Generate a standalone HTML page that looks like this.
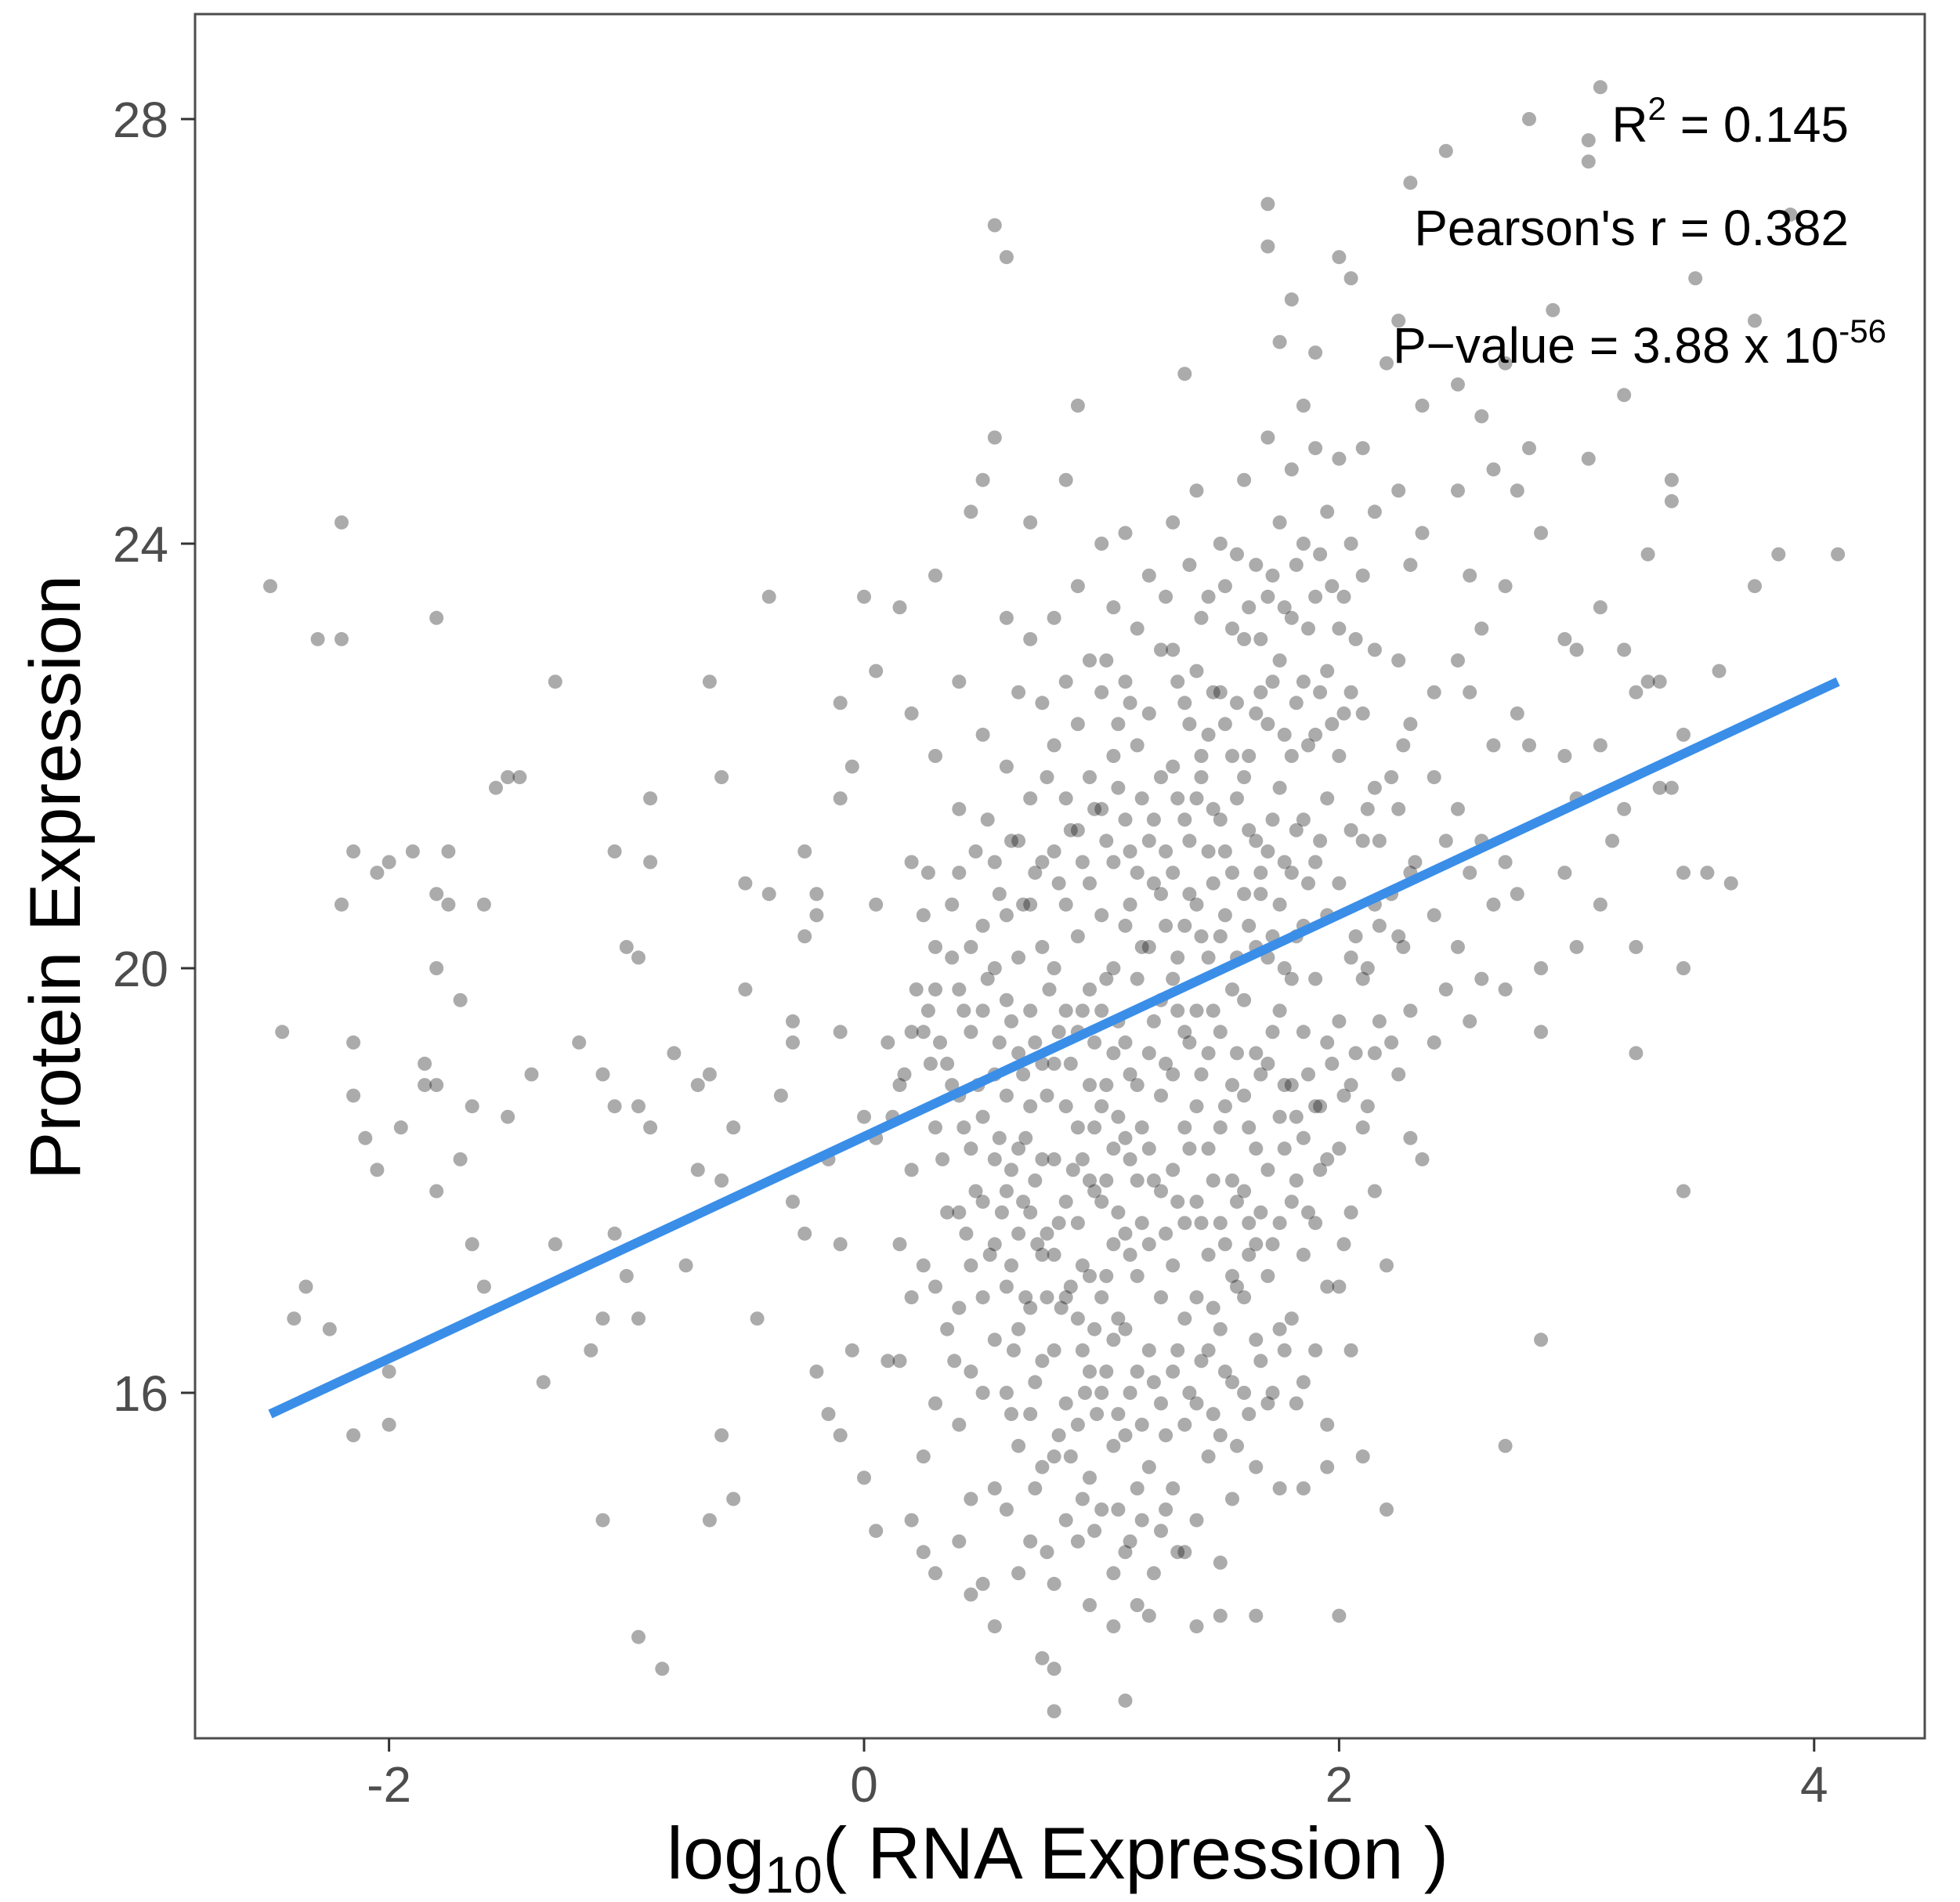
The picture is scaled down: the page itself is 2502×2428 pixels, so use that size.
<!DOCTYPE html>
<html><head><meta charset="utf-8">
<style>
html,body{margin:0;padding:0;background:#fff;}
svg{display:block;font-family:"Liberation Sans",Arial,sans-serif;}
</style></head>
<body>
<svg id="chart" width="2502" height="2428" viewBox="0 0 2502 2428" xmlns="http://www.w3.org/2000/svg">
<rect x="0" y="0" width="2502" height="2428" fill="#fff"/>
<g id="points"></g>
<g id="fit"></g>
<rect x="249" y="18" width="2208" height="2201" fill="none" stroke="#4d4d4d" stroke-width="3"/>
<g id="xaxis"></g>
<g id="yaxis"></g>
<text x="1350" y="2398" font-size="94" text-anchor="middle" fill="#000">log<tspan font-size="66" dy="18">10</tspan><tspan dy="-18">( RNA Expression )</tspan></text>
<text transform="translate(102,1120) rotate(-90)" font-size="92" text-anchor="middle" fill="#000">Protein Expression</text>
<text x="2360" y="181" font-size="64" text-anchor="end" fill="#000">R<tspan font-size="42" dy="-28">2</tspan><tspan dy="28"> = 0.145</tspan></text>
<text x="2360" y="313" font-size="64" text-anchor="end" fill="#000">Pearson's r = 0.382</text>
<text x="2408" y="463" font-size="64" text-anchor="end" fill="#000">P−value = 3.88 x 10<tspan font-size="42" dy="-26">-56</tspan></text>
</svg>
<script>
const xTicks = [-2, 0, 2, 4];
const xTickLabels = ["-2", "0", "2", "4"];
const yTicks = [16, 20, 24, 28];
const yTickLabels = ["16", "20", "24", "28"];
const fitX = [-2.5, 4.1];
const fitY = [15.8, 22.7];
const points = [
[-2.5,23.6],[-2.45,19.4],[-2.2,24.2],[-2.3,23.1],[-2.2,23.1],[-2.15,21.1],[-2.2,20.6],[-2.05,20.9],[-2.0,21.0],[-2.15,19.3],[-2.15,18.8],[-2.1,18.4],[-2.05,18.1],[-2.35,17.0],[-2.4,16.7],[-2.25,16.6],[-2.0,16.2],[-2.15,15.6],[-2.0,15.7],
[-1.8,23.3],[-1.9,21.1],[-1.75,21.1],[-1.8,20.7],[-1.75,20.6],[-1.6,20.6],[-1.8,20.0],[-1.7,19.7],[-1.85,19.1],[-1.85,18.9],[-1.8,18.9],[-1.95,18.5],[-1.65,18.7],[-1.7,18.2],[-1.8,17.9],[-1.65,17.4],[-1.6,17.0],
[-1.5,21.8],[-1.55,21.7],[-1.45,21.8],[-1.4,19.0],[-1.5,18.6],[-1.3,22.7],[-1.3,17.4],[-1.35,16.1],[-1.2,19.3],[-1.1,19.0],[-1.15,16.4],[-1.1,16.7],[-1.05,21.1],[-1.0,20.2],[-0.95,20.1],[-1.05,18.7],[-0.95,18.7],[-1.05,17.5],[-1.0,17.1],[-0.95,16.7],[-0.9,18.5],[-1.1,14.8],[-0.95,13.7],[-0.85,13.4],
[-0.9,21.6],[-0.9,21.0],[-0.8,19.2],[-0.75,17.2],[-0.7,18.1],[-0.65,22.7],[-0.6,21.8],[-0.65,19.0],[-0.7,18.9],[-0.6,18.0],[-0.55,18.5],[-0.6,15.6],[-0.55,15.0],[-0.65,14.8],[-0.5,20.8],[-0.5,19.8],[-0.45,16.7],[-0.4,23.5],[-0.4,20.7],[-0.35,18.8],[-0.3,19.5],[-0.3,19.3],[-0.25,21.1],[-0.25,20.3],[-0.2,20.7],[-0.2,20.5],[-0.3,17.8],[-0.25,17.5],[-0.2,16.2],
[-0.1,22.5],[-0.1,21.6],[-0.05,21.9],[-0.1,19.4],[-0.15,18.2],[-0.1,17.4],[-0.05,16.4],[-0.15,15.8],[-0.1,15.6],[0.0,23.5],[0.05,22.8],[0.05,20.6],[0.1,19.3],[0.0,18.6],[0.05,18.4],[0.1,16.3],[0.0,15.2],[0.05,14.7],
[0.15,23.4],[0.2,22.4],[0.2,21.0],[0.25,20.5],[0.2,19.4],[0.25,19.4],[0.15,18.9],[0.2,18.1],[0.15,17.4],[0.25,17.2],[0.2,16.9],[0.15,16.3],[0.25,15.4],[0.2,14.8],[0.3,23.7],[0.3,22.0],[0.3,20.2],[0.3,19.8],[0.35,19.1],[0.3,18.5],[0.35,17.7],[0.3,17.0],[0.35,16.6],[0.3,15.9],[0.25,14.5],[0.3,14.3],
[0.4,22.7],[0.4,21.5],[0.4,20.9],[0.45,20.2],[0.4,19.8],[0.45,19.4],[0.4,18.8],[0.45,18.3],[0.4,17.7],[0.45,17.2],[0.4,16.8],[0.45,16.2],[0.4,15.7],[0.45,15.0],[0.4,14.6],[0.45,14.1],[0.45,24.3],
[0.5,22.2],[0.55,21.0],[0.5,20.4],[0.55,20.0],[0.5,19.6],[0.55,19.0],[0.5,18.6],[0.55,18.2],[0.5,17.8],[0.55,17.4],[0.5,16.9],[0.55,16.5],[0.5,16.0],[0.55,15.1],[0.5,14.2],[0.55,13.8],[0.55,27.0],[0.6,26.7],[0.55,25.0],[0.5,24.6],
[0.6,23.3],[0.65,22.6],[0.6,21.9],[0.65,21.2],[0.6,20.5],[0.65,20.1],[0.6,19.7],[0.65,19.2],[0.6,18.8],[0.65,18.3],[0.6,17.9],[0.65,17.5],[0.6,17.0],[0.65,16.6],[0.6,16.0],[0.65,15.5],[0.6,14.9],[0.65,14.3],
[0.7,24.2],[0.7,23.1],[0.75,22.5],[0.7,21.6],[0.75,21.0],[0.7,20.6],[0.75,20.2],[0.7,19.6],[0.75,19.1],[0.7,18.7],[0.75,18.2],[0.7,17.7],[0.75,17.3],[0.7,16.8],[0.75,16.3],[0.7,15.8],[0.75,15.3],[0.7,14.6],[0.8,13.4],[0.8,13.0],[0.75,13.5],
[0.8,23.3],[0.85,22.7],[0.8,22.1],[0.85,21.6],[0.8,21.1],[0.85,20.6],[0.8,20.0],[0.85,19.6],[0.8,19.1],[0.85,18.7],[0.8,18.2],[0.85,17.8],[0.8,17.3],[0.85,16.9],[0.8,16.4],[0.85,15.9],[0.8,15.4],[0.85,14.8],[0.8,14.2],[0.85,24.6],[0.9,25.3],
[0.9,23.6],[0.95,22.9],[0.9,22.3],[0.95,21.8],[0.9,21.3],[0.95,20.8],[0.9,20.3],[0.95,19.8],[0.9,19.4],[0.95,18.9],[0.9,18.5],[0.95,18.0],[0.9,17.6],[0.95,17.1],[0.9,16.7],[0.95,16.2],[0.9,15.7],[0.95,15.2],[0.9,14.6],[0.95,14.0],
[1.0,24.0],[1.05,23.4],[1.0,22.6],[1.05,22.0],[1.0,21.5],[1.05,21.0],[1.0,20.5],[1.05,20.0],[1.0,19.6],[1.05,19.2],[1.0,18.7],[1.05,18.3],[1.0,17.8],[1.05,17.4],[1.0,16.9],[1.05,16.5],[1.0,16.0],[1.05,15.5],[1.0,14.9],[1.05,14.3],[1.1,13.1],[1.05,13.8],
[1.1,24.1],[1.15,23.2],[1.1,22.7],[1.15,22.1],[1.1,21.4],[1.15,20.9],[1.1,20.4],[1.15,19.9],[1.1,19.3],[1.15,18.9],[1.1,18.4],[1.15,18.0],[1.1,17.5],[1.15,17.1],[1.1,16.6],[1.15,16.2],[1.1,15.6],[1.15,15.1],[1.1,14.5],[1.15,14.0],
[1.2,23.7],[1.25,23.0],[1.2,22.4],[1.25,21.8],[1.2,21.2],[1.25,20.7],[1.2,20.2],[1.25,19.7],[1.2,19.2],[1.25,18.8],[1.2,18.3],[1.25,17.9],[1.2,17.4],[1.25,16.9],[1.2,16.4],[1.25,15.9],[1.2,15.3],[1.25,14.7],[1.2,13.9],[1.3,24.2],
[1.3,23.0],[1.35,22.5],[1.3,21.9],[1.35,21.4],[1.3,20.9],[1.35,20.4],[1.3,19.9],[1.35,19.4],[1.3,19.0],[1.35,18.5],[1.3,18.1],[1.35,17.6],[1.3,17.2],[1.35,16.7],[1.3,16.2],[1.35,15.7],[1.3,15.1],[1.35,14.5],[1.4,13.8],[1.35,25.6],
[1.4,24.5],[1.45,23.5],[1.4,22.8],[1.45,22.2],[1.4,21.6],[1.45,21.1],[1.4,20.6],[1.45,20.1],[1.4,19.6],[1.45,19.2],[1.4,18.7],[1.45,18.3],[1.4,17.8],[1.45,17.3],[1.4,16.9],[1.45,16.4],[1.4,15.9],[1.45,15.4],[1.4,14.8],[1.5,13.9],
[1.5,24.0],[1.55,23.2],[1.5,22.6],[1.55,22.0],[1.5,21.4],[1.55,20.9],[1.5,20.3],[1.55,19.8],[1.5,19.4],[1.55,18.9],[1.5,18.5],[1.55,18.0],[1.5,17.6],[1.55,17.1],[1.5,16.6],[1.55,16.1],[1.5,15.6],[1.55,15.0],[1.5,14.4],
[1.6,24.6],[1.65,23.8],[1.6,23.1],[1.65,22.4],[1.6,21.8],[1.65,21.2],[1.6,20.7],[1.65,20.2],[1.6,19.7],[1.65,19.2],[1.6,18.8],[1.65,18.3],[1.6,17.9],[1.65,17.4],[1.6,16.9],[1.65,16.5],[1.6,16.0],[1.65,15.3],[1.65,13.9],[1.7,27.2],[1.7,26.8],[1.75,25.9],
[1.7,25.0],[1.75,24.2],[1.7,23.5],[1.75,22.9],[1.7,22.3],[1.75,21.7],[1.7,21.1],[1.75,20.6],[1.7,20.1],[1.75,19.6],[1.7,19.1],[1.75,18.6],[1.7,18.1],[1.75,17.6],[1.7,17.1],[1.75,16.6],[1.7,15.9],[1.75,15.1],[1.85,15.1],
[1.8,26.3],[1.85,25.3],[1.8,24.7],[1.85,24.0],[1.8,23.3],[1.85,22.7],[1.8,22.0],[1.85,21.4],[1.8,20.9],[1.85,20.4],[1.8,19.9],[1.85,19.4],[1.8,18.9],[1.85,18.4],[1.8,17.8],[1.85,17.3],[1.8,16.7],[1.85,16.1],[1.9,25.8],
[1.9,24.9],[1.95,24.3],[1.9,23.5],[1.95,22.8],[1.9,22.2],[1.95,21.6],[1.9,21.0],[1.95,20.5],[1.9,19.9],[1.95,19.3],[1.9,18.7],[1.95,18.2],[1.9,17.6],[1.95,17.0],[1.9,16.4],[1.95,15.7],[1.95,15.3],[2.0,13.9],
[2.0,26.7],[2.05,26.5],[2.0,24.8],[2.05,24.0],[2.0,23.2],[2.05,22.6],[2.0,22.0],[2.05,21.3],[2.0,20.8],[2.05,20.1],[2.0,19.5],[2.05,18.9],[2.0,18.3],[2.05,17.7],[2.0,17.0],[2.05,16.4],[2.1,15.4],
[2.1,24.9],[2.15,24.3],[2.1,23.7],[2.15,23.0],[2.1,22.4],[2.15,21.7],[2.1,21.2],[2.15,20.6],[2.1,19.9],[2.15,19.2],[2.1,18.5],[2.15,17.9],[2.2,17.2],[2.2,14.9],[2.2,25.7],[2.25,26.1],
[2.25,24.5],[2.3,23.8],[2.25,22.9],[2.3,22.3],[2.25,21.5],[2.3,20.9],[2.25,20.3],[2.3,19.6],[2.25,19.0],[2.3,18.4],[2.35,18.2],[2.3,27.4],[2.35,25.3],[2.35,24.1],[2.4,22.6],[2.4,21.8],[2.45,21.2],[2.4,20.5],[2.45,19.8],[2.4,19.3],
[2.45,27.7],[2.5,25.5],[2.5,24.5],[2.55,23.7],[2.5,22.9],[2.55,22.6],[2.5,21.5],[2.55,20.9],[2.5,20.2],[2.55,19.5],[2.6,25.2],[2.65,24.7],[2.6,23.2],[2.65,22.1],[2.6,21.2],[2.65,20.6],[2.6,19.9],
[2.7,25.7],[2.75,24.5],[2.7,23.6],[2.75,22.4],[2.7,21.0],[2.75,20.7],[2.7,19.8],[2.7,15.5],[2.8,28.0],[2.8,24.9],[2.85,24.1],[2.8,22.1],[2.85,20.0],[2.85,19.4],[2.85,16.5],[2.9,26.2],
[2.95,23.1],[3.0,23.0],[2.95,22.0],[3.0,21.6],[2.95,20.9],[3.0,20.2],[3.05,27.8],[3.05,27.6],[3.05,24.8],[3.1,28.3],[3.1,23.4],[3.1,22.1],[3.15,21.2],[3.1,20.6],[3.2,25.4],[3.2,23.0],[3.25,22.6],[3.2,21.5],[3.25,20.2],[3.25,19.2],
[3.3,23.9],[3.3,22.7],[3.35,22.7],[3.35,21.7],[3.4,24.4],[3.4,24.6],[3.45,22.2],[3.4,21.7],[3.45,20.9],[3.45,20.0],[3.45,17.9],[3.5,26.5],[3.55,20.9],[3.6,22.8],[3.65,20.8],[3.75,26.1],[3.75,23.6],[3.85,23.9],[3.9,27.1],[4.1,23.9],
[0.52,21.4],[0.57,19.3],[0.62,17.2],[0.68,18.4],[0.72,16.1],[0.78,19.8],[0.82,17.6],[0.88,18.1],[0.92,16.4],[0.97,17.9],[0.48,18.9],[0.43,17.5],[0.38,16.3],[0.33,18.2],[0.28,19.1],
[0.83,16.8],[0.87,17.0],[0.92,17.2],[0.97,16.6],[1.02,17.1],[1.07,16.7],[1.12,17.3],[0.77,16.9],[0.73,17.4],[0.68,16.9],[0.63,16.4],[0.58,17.7],[0.53,17.3],[0.93,16.0],[0.98,15.8],
[1.02,18.9],[1.07,18.6],[1.12,19.0],[1.17,18.5],[1.22,19.5],[1.27,19.1],[1.32,19.6],[1.37,19.3],[1.42,19.0],[1.47,19.6],[1.52,18.7],[1.57,19.2],[1.62,18.5],[1.67,19.0],[1.72,19.4],
[1.22,21.4],[1.27,21.1],[1.32,21.6],[1.37,21.2],[1.42,21.8],[1.47,21.5],[1.52,21.1],[1.57,21.6],[1.62,21.3],[1.67,20.9],[1.72,21.4],[1.77,21.0],[1.82,21.3],[1.87,20.8],[1.92,21.2],
[1.32,22.7],[1.37,22.3],[1.42,22.0],[1.47,22.6],[1.52,22.3],[1.57,22.5],[1.62,22.0],[1.67,22.6],[1.72,22.7],[1.77,22.2],[1.82,22.5],[1.87,22.1],[1.92,22.6],[1.97,22.3],[2.02,22.4],
[1.12,20.6],[1.17,20.2],[1.22,20.8],[1.27,20.4],[1.32,20.1],[1.37,20.7],[1.42,20.3],[1.47,20.8],[1.52,20.5],[1.57,20.1],[1.62,20.4],[1.67,20.7],[1.72,20.3],[1.77,20.0],[1.82,20.3],
[0.92,18.2],[0.97,18.5],[1.02,18.0],[1.07,17.7],[1.12,18.2],[1.17,17.6],[1.22,18.0],[1.27,17.5],[1.32,17.8],[1.37,18.3],[1.42,17.6],[1.47,18.0],[1.52,17.4],[1.57,17.8],[1.62,17.3],
[0.62,19.5],[0.67,19.0],[0.72,19.3],[0.77,18.8],[0.82,19.4],[0.87,19.1],[0.92,19.6],[0.97,19.3],[1.02,19.9],[1.07,19.5],[0.57,18.4],[0.62,18.1],[0.67,17.8],[0.72,18.0],[0.77,17.5],
[1.02,16.2],[1.07,15.8],[1.12,16.0],[1.17,15.7],[1.22,16.1],[1.27,15.6],[1.32,16.4],[1.37,16.0],[1.42,16.3],[1.47,15.8],[1.52,16.2],[1.57,15.5],[0.87,15.4],[0.92,15.0],[0.82,15.6],
[1.07,14.9],[1.12,14.6],[1.17,14.8],[1.22,14.3],[0.97,14.7],[1.27,14.9],[1.32,14.5],[0.62,15.8],[0.72,15.1],[0.77,14.5],[1.62,15.8],[1.67,16.3],[1.72,16.0],[1.77,16.4],[1.82,15.9],
[1.77,18.9],[1.82,18.6],[1.87,19.0],[1.92,18.7],[1.97,19.1],[2.02,18.8],[1.77,18.3],[1.82,18.0],[1.87,17.7],[1.92,18.1],[1.67,17.7],[1.72,17.4],[1.57,17.0],[1.62,17.6],[1.47,16.8],
[1.52,23.6],[1.57,23.9],[1.62,23.4],[1.67,23.1],[1.72,23.7],[1.77,23.4],[1.82,23.8],[1.87,23.2],[1.92,23.9],[1.97,23.6],[2.02,23.5],[2.07,23.1],[1.42,23.3],[1.37,23.8],[1.27,23.5],
[0.92,21.0],[0.97,21.5],[1.02,21.2],[1.07,21.7],[1.12,21.1],[1.17,21.6],[0.82,20.8],[0.87,21.3],[0.77,21.8],[0.72,20.9],[0.67,20.6],[0.62,21.2],[1.07,22.3],[1.12,22.5],[1.02,22.9],
[2.07,20.3],[2.12,20.0],[2.17,20.4],[2.22,20.7],[2.27,20.2],[2.32,21.0],[2.12,21.5],[2.17,21.2],[2.22,21.8],[2.27,22.1],[2.07,19.2],[2.12,18.7],[2.17,19.5],[2.22,19.3],[2.02,17.4],
[0.42,19.6],[0.37,20.1],[0.32,19.3],[0.27,19.6],[0.42,18.5],[0.37,18.9],[0.47,17.9],[0.52,19.9],[0.57,20.7],[0.47,21.1],[0.37,20.6],[0.27,20.9],[0.22,19.8],[0.17,19.0],[0.12,18.6]
];

const NS = "http://www.w3.org/2000/svg";
function xScale(v){ return 1103 + (v - 0) * 303.2; }
function yScale(v){ return 1236 - (v - 20) * 135.5; }

const gp = document.getElementById("points");
for (let i = 0; i < points.length; i++) {
  const c = document.createElementNS(NS, "circle");
  c.setAttribute("cx", xScale(points[i][0]).toFixed(1));
  c.setAttribute("cy", yScale(points[i][1]).toFixed(1));
  c.setAttribute("r", "9");
  c.setAttribute("fill", "#000");
  c.setAttribute("fill-opacity", "0.33");
  
  
  gp.appendChild(c);
}

const gf = document.getElementById("fit");
const ln = document.createElementNS(NS, "line");
ln.setAttribute("x1", xScale(fitX[0]));
ln.setAttribute("y1", yScale(fitY[0]));
ln.setAttribute("x2", xScale(fitX[1]));
ln.setAttribute("y2", yScale(fitY[1]));
ln.setAttribute("stroke", "#3a8ee8");
ln.setAttribute("stroke-width", "12");


gf.appendChild(ln);

const gx = document.getElementById("xaxis");
for (let i = 0; i < xTicks.length; i++) {
  const x = xScale(xTicks[i]);
  const t = document.createElementNS(NS, "line");
  t.setAttribute("x1", x); t.setAttribute("x2", x);
  t.setAttribute("y1", 2219); t.setAttribute("y2", 2236);
  t.setAttribute("stroke", "#333"); t.setAttribute("stroke-width", "3");
  
  
  gx.appendChild(t);
  const l = document.createElementNS(NS, "text");
  l.setAttribute("x", x); l.setAttribute("y", 2300);
  l.setAttribute("font-size", "64"); l.setAttribute("fill", "#4d4d4d");
  l.setAttribute("text-anchor", "middle");
  l.textContent = xTickLabels[i];
  
  
  gx.appendChild(l);
}
const gy = document.getElementById("yaxis");
for (let i = 0; i < yTicks.length; i++) {
  const y = yScale(yTicks[i]);
  const t = document.createElementNS(NS, "line");
  t.setAttribute("x1", 231); t.setAttribute("x2", 249);
  t.setAttribute("y1", y); t.setAttribute("y2", y);
  t.setAttribute("stroke", "#333"); t.setAttribute("stroke-width", "3");
  
  
  gy.appendChild(t);
  const l = document.createElementNS(NS, "text");
  l.setAttribute("x", 215); l.setAttribute("y", y + 23);
  l.setAttribute("font-size", "64"); l.setAttribute("fill", "#4d4d4d");
  l.setAttribute("text-anchor", "end");
  l.textContent = yTickLabels[i];
  
  
  gy.appendChild(l);
}
</script>
</body></html>
